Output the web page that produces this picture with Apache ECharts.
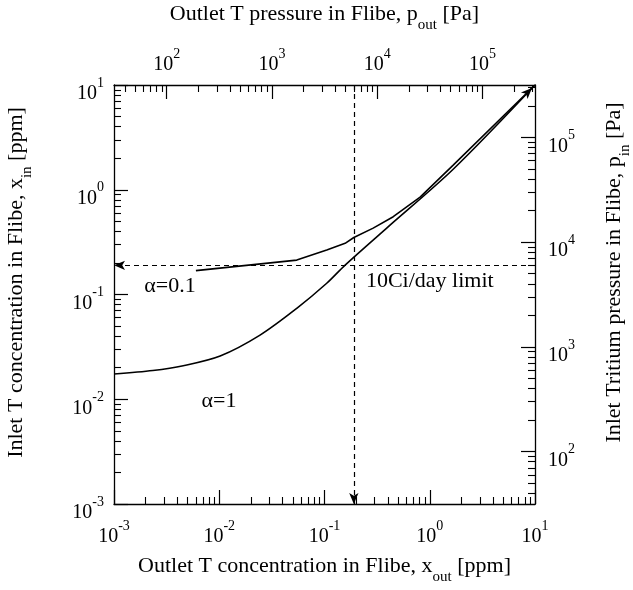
<!DOCTYPE html>
<html><head><meta charset="utf-8">
<script src="https://cdn.jsdelivr.net/npm/echarts@6/dist/echarts.min.js"></script>
<style>html,body{margin:0;padding:0;background:#fff}#c{width:633px;height:590px}</style>
</head><body><div id="c"></div>
<script>
// ---- data (raw values, ppm / Pa) ----
const alpha1X = [0.001, 0.00234, 0.00455, 0.0102, 0.0244, 0.0545, 0.105, 0.157, 0.39, 1.67, 10];
const alpha1Y = [0.0174, 0.0188, 0.0209, 0.0259, 0.041, 0.0738, 0.128, 0.191, 0.431, 1.57, 10];
const alpha01X = [0.006, 0.0545, 0.105, 0.157, 0.19, 0.29, 0.45, 0.81, 1.67, 10];
const alpha01Y = [0.169, 0.213, 0.266, 0.308, 0.35, 0.43, 0.553, 0.85, 1.72, 10];
const limitX = 0.19;   // outlet concentration at 10Ci/day
const limitY = 0.19;   // inlet concentration at 10Ci/day
const concRange = [0.001, 10];
const pressRange = [31.6, 316000];
const concTicks = [0.001, 0.01, 0.1, 1, 10];
const pressTicks = [100, 1000, 10000, 100000];
const annotText = ['\u03b1=0.1', '\u03b1=1', '10Ci/day limit'];
const annotX = [0.0034, 0.00995, 1.0];
const annotY = [0.1205, 0.0096, 0.1346];

const L = Math.log10;
const FONT = '"Liberation Serif","Times New Roman",serif';
const INK = '#000';

function minorTicks(range) {
  const lo = L(range[0]), hi = L(range[1]), r = [];
  for (let n = Math.floor(lo); n < hi; n++) {
    for (let k = 2; k <= 9; k++) { const v = n + L(k); if (v > lo + 1e-6 && v < hi - 1e-6) r.push(v); }
  }
  return r;
}
const supRich = {
  b: { fontFamily: FONT, fontSize: 20, color: INK, verticalAlign: 'bottom', lineHeight: 28 },
  s: { fontFamily: FONT, fontSize: 14, color: INK, verticalAlign: 'top', lineHeight: 28 }
};
function supFmt(v) { return '{b|10}{s|' + Math.round(v) + '}'; }
const nameRich = {
  t: { fontFamily: FONT, fontSize: 22, color: INK, verticalAlign: 'top', lineHeight: 30 },
  u: { fontFamily: FONT, fontSize: 15, color: INK, verticalAlign: 'bottom', lineHeight: 30 }
};

function majorAxis(pos, range, ticks, name, gap, extra, labelExtra, nameExtra) {
  return Object.assign({
    type: 'value', position: pos, min: L(range[0]), max: L(range[1]),
    axisLine: { show: true, onZero: false, lineStyle: { color: INK, width: 1.3 } },
    axisTick: { show: true, inside: true, length: 14, customValues: ticks.map(L), lineStyle: { color: INK, width: 1.2 } },
    axisLabel: Object.assign({ show: true, customValues: ticks.map(L), formatter: supFmt, rich: supRich, margin: 10 }, labelExtra || {}),
    splitLine: { show: false },
    name: name, nameLocation: 'middle', nameGap: gap,
    nameTextStyle: Object.assign({ rich: nameRich }, nameExtra || {})
  }, extra || {});
}
function minorAxis(pos, range) {
  return {
    type: 'value', position: pos, min: L(range[0]), max: L(range[1]),
    axisLine: { show: false, onZero: false },
    axisTick: { show: true, inside: true, length: 7, customValues: minorTicks(range), lineStyle: { color: INK, width: 1.1 } },
    axisLabel: { show: false }, splitLine: { show: false }
  };
}

const chart = echarts.init(document.getElementById('c'), null, { renderer: 'canvas' });
chart.setOption({
  backgroundColor: '#fff',
  animation: false,
  grid: { left: 114, right: 98, top: 85, bottom: 86, containLabel: false, outerBoundsMode: 'none' },
  xAxis: [
    majorAxis('bottom', concRange, concTicks, '{t|Outlet T concentration in Flibe, x}{u|out}{t| [ppm]}', 51, null, { margin: 15 }),
    majorAxis('top', pressRange, pressTicks, '{t|Outlet T pressure in Flibe, p}{u|out}{t| [Pa]}', 52),
    minorAxis('bottom', concRange),
    minorAxis('top', pressRange)
  ],
  yAxis: [
    majorAxis('left', concRange, concTicks, '{t|Inlet T concentration in Flibe, x}{u|in}{t| [ppm]}', 79, { nameRotate: 90 }, { padding: [10, 0, 0, 0], margin: 10 }, { padding: [0, 0, 0, 24] }),
    majorAxis('right', pressRange, pressTicks, '{t|Inlet Tritium pressure in Flibe, p}{u|in}{t| [Pa]}', 68, { nameRotate: 90 }, { padding: [10, 0, 0, 0], margin: 13 }, { padding: [0, 0, 0, 44] }),
    minorAxis('left', concRange),
    minorAxis('right', pressRange)
  ],
  series: [
    {
      type: 'line', xAxisIndex: 0, yAxisIndex: 0, smooth: 0.3, symbol: 'none',
      lineStyle: { color: INK, width: 1.6 },
      data: alpha1X.map((x, i) => [L(x), L(alpha1Y[i])]),
      markPoint: {
        silent: true,
        data: [{ coord: [L(alpha1X[alpha1X.length - 1]), L(alpha1Y[alpha1Y.length - 1])], symbol: 'arrow', symbolSize: [7, 11], symbolRotate: -45, symbolOffset: [-3, 3], itemStyle: { color: INK }, label: { show: false } }]
      },
      markLine: {
        silent: true, symbol: ['none', 'arrow'], symbolSize: [7, 11],
        lineStyle: { color: INK, type: [5, 4], width: 1.2 },
        label: { show: false },
        data: [
          [{ coord: [L(concRange[1]), L(limitY)] }, { coord: [L(concRange[0]), L(limitY)] }],
          [{ coord: [L(limitX), L(concRange[1])] }, { coord: [L(limitX), L(concRange[0])] }]
        ]
      }
    },
    {
      type: 'line', xAxisIndex: 0, yAxisIndex: 0, smooth: false, symbol: 'none',
      lineStyle: { color: INK, width: 1.6 },
      data: alpha01X.map((x, i) => [L(x), L(alpha01Y[i])])
    },
    {
      type: 'scatter', xAxisIndex: 0, yAxisIndex: 0, symbolSize: 0, silent: true,
      itemStyle: { color: '#fff', opacity: 0 },
      label: { show: true, position: 'inside', formatter: p => p.value[2], fontFamily: FONT, fontSize: 22, color: INK, textBorderWidth: 0, textBorderColor: 'transparent', opacity: 1 },
      data: annotText.map((t, i) => [L(annotX[i]), L(annotY[i]), t])
    }
  ]
});
</script></body></html>
